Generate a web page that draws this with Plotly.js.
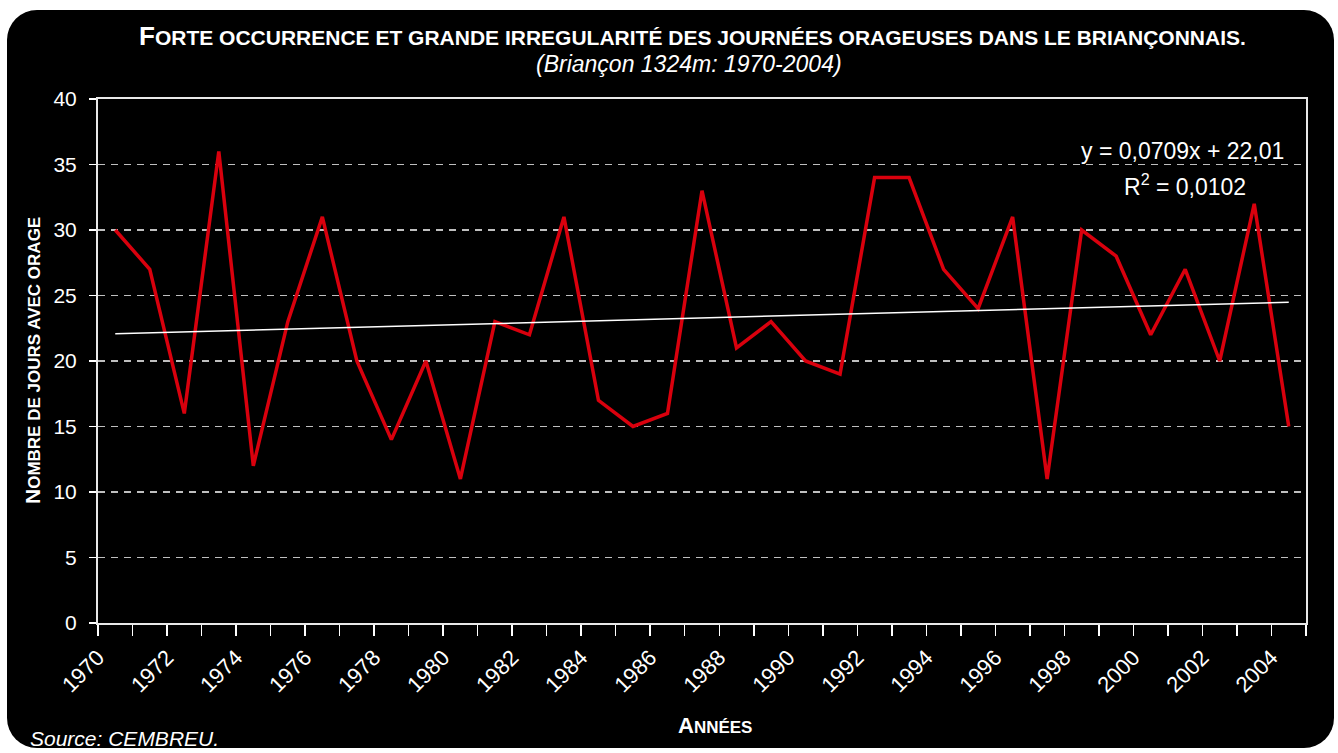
<!DOCTYPE html>
<html>
<head>
<meta charset="utf-8">
<script src="https://cdn.plot.ly/plotly-3.0.1.min.js"></script>
<style>
  html, body { margin:0; padding:0; background:#ffffff; width:1338px; height:753px; overflow:hidden; }
  #bg { position:absolute; left:7px; top:10px; width:1327px; height:738px; background:#000; border-radius:30px; }
  #chart { position:absolute; left:0; top:0; width:1338px; height:753px; }
</style>
</head>
<body>
<div id="bg"></div>
<div id="chart"></div>
<script>
// Data (one value per year, plotted at mid-year)
const years = [1970,1971,1972,1973,1974,1975,1976,1977,1978,1979,1980,1981,1982,1983,1984,1985,1986,1987,1988,1989,1990,1991,1992,1993,1994,1995,1996,1997,1998,1999,2000,2001,2002,2003,2004];
const stormDays = [30,27,16,36,12,23,31,20,14,20,11,23,22,31,17,15,16,33,21,23,20,19,34,34,27,24,31,11,30,28,22,27,20,32,15];
// Linear trend endpoints (y = 0,0709x + 22,01 for x = 1 and x = 35)
const trendYears = [1970, 2004];
const trendValues = [22.08, 24.49];
const tickYears = [1970,1972,1974,1976,1978,1980,1982,1984,1986,1988,1990,1992,1994,1996,1998,2000,2002,2004];
const yTicks = [0,5,10,15,20,25,30,35,40];

const titleText = "Forte occurrence et grande irregularité des journées orageuses dans le briançonnais.";
const subtitleText = "(Briançon 1324m: 1970-2004)";
const yTitle = "Nombre de jours avec orage";
const xTitle = "Années";
const sourceText = "Source: CEMBREU.";
const eqText = "y = 0,0709x + 22,01";
const r2Text = "R<sup>2</sup> = 0,0102";

const FONT = "Liberation Sans, Arial, sans-serif";

// small caps built by hand: first letter large, rest upper-case smaller
function smallCaps(s, small) {
  return s.charAt(0).toUpperCase() + "<span style='font-size:" + small + "px'>" + s.slice(1).toUpperCase() + "</span>";
}

const traces = [
  {
    x: years.map(y => y + 0.5), y: stormDays, type: 'scatter', mode: 'lines',
    line: { color: '#d9000d', width: 3.5 }, hoverinfo: 'skip', showlegend: false
  },
  {
    x: trendYears.map(y => y + 0.5), y: trendValues, type: 'scatter', mode: 'lines',
    line: { color: '#ffffff', width: 1.5 }, hoverinfo: 'skip', showlegend: false
  }
];

const layout = {
  width: 1338, height: 753,
  paper_bgcolor: 'rgba(0,0,0,0)', plot_bgcolor: '#000000',
  margin: { l: 98, r: 32, t: 99, b: 130 },
  font: { family: FONT, color: '#ffffff' },
  showlegend: false,
  xaxis: {
    range: [1970, 2005], tickmode: 'array', tickvals: tickYears, ticktext: tickYears.map(String),
    tickangle: -45, tickfont: { size: 22, color: '#ffffff', family: FONT },
    ticks: 'outside', ticklen: 11, tickwidth: 1.5, tickcolor: '#ffffff',
    minor: { dtick: 1, tick0: 1970, ticks: 'outside', ticklen: 11, tickwidth: 1.5, tickcolor: '#ffffff', showgrid: false },
    showgrid: false, zeroline: false,
    showline: true, linecolor: '#e8e8e8', linewidth: 2, mirror: true
  },
  yaxis: {
    range: [0, 40], tickmode: 'array', tickvals: yTicks,
    tickfont: { size: 21, color: '#ffffff', family: FONT },
    ticks: 'outside', ticklen: 7, tickwidth: 1.5, tickcolor: '#ffffff', ticklabelstandoff: 8,
    showgrid: true, gridcolor: '#bfbfbf', gridwidth: 1.5, griddash: '7px,6px',
    zeroline: false,
    showline: true, linecolor: '#e8e8e8', linewidth: 2, mirror: true
  },
  annotations: [
    { text: smallCaps(titleText, 21), xref: 'paper', yref: 'paper', x: 0.492, y: 1, yshift: 63, xanchor: 'center', yanchor: 'middle',
      showarrow: false, font: { size: 26, color: '#ffffff', family: FONT, weight: 'bold' } },
    { text: subtitleText, xref: 'paper', yref: 'paper', x: 0.489, y: 1, yshift: 35, xanchor: 'center', yanchor: 'middle',
      showarrow: false, font: { size: 23, color: '#ffffff', family: FONT, style: 'italic' } },
    { text: smallCaps(yTitle, 17), xref: 'paper', yref: 'paper', x: 0, xshift: -66, y: 0.5, xanchor: 'center', yanchor: 'middle',
      textangle: -90, showarrow: false, font: { size: 21, color: '#ffffff', family: FONT, weight: 'bold' } },
    { text: smallCaps(xTitle, 17), xref: 'paper', yref: 'paper', x: 0.511, y: 0, yshift: -102, xanchor: 'center', yanchor: 'middle',
      showarrow: false, font: { size: 22, color: '#ffffff', family: FONT, weight: 'bold' } },
    { text: eqText, x: 2001.43, y: 36.0, xanchor: 'center', yanchor: 'middle', showarrow: false,
      font: { size: 23, color: '#ffffff', family: FONT } },
    { text: r2Text, x: 2001.5, y: 33.4, xanchor: 'center', yanchor: 'middle', showarrow: false,
      font: { size: 23, color: '#ffffff', family: FONT } },
    { text: sourceText, xref: 'paper', yref: 'paper', x: -0.058, y: 0, yshift: -115, xanchor: 'left', yanchor: 'middle',
      showarrow: false, font: { size: 21, color: '#ffffff', family: FONT, style: 'italic' } }
  ]
};

Plotly.newPlot('chart', traces, layout, { displayModeBar: false, staticPlot: true });
</script>
</body>
</html>
